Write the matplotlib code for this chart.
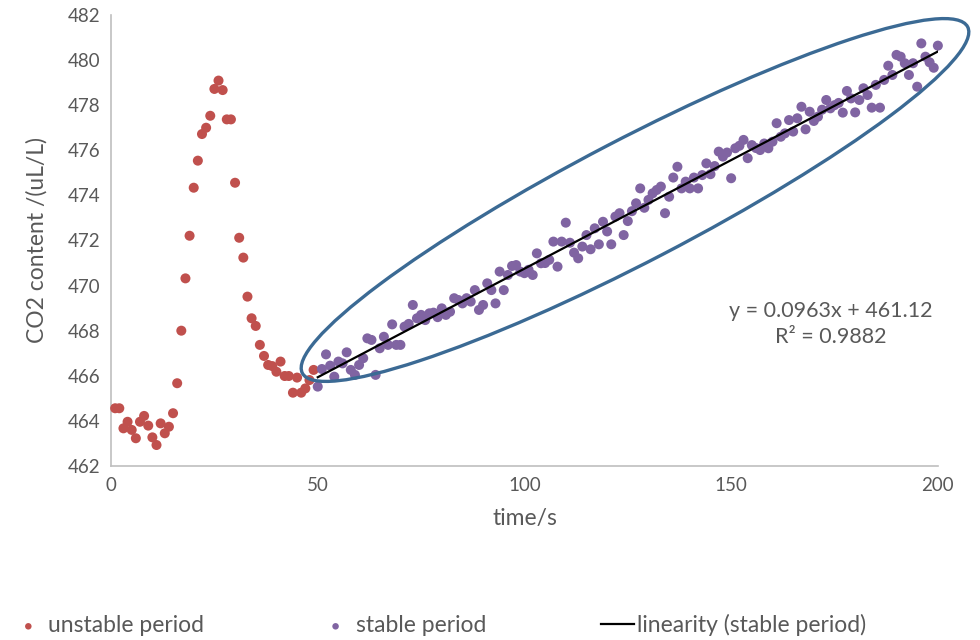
import numpy as np
import matplotlib
matplotlib.use("Agg")
import matplotlib.pyplot as plt
from matplotlib.patches import Ellipse

plt.rcParams['font.family'] = ['Lato', 'DejaVu Sans']

# unstable period: t = 1..49 s
unstable_t = list(range(1, 50))
unstable_co2 = [464.56, 464.56, 463.67, 463.96, 463.60, 463.23, 463.96, 464.22, 463.79, 463.27,
                462.93, 463.89, 463.45, 463.74, 464.34, 465.67, 468.00, 470.32, 472.21, 474.34,
                475.54, 476.72, 477.00, 477.53, 478.72, 479.09, 478.67, 477.37, 477.37, 474.56,
                472.12, 471.24, 469.51, 468.55, 468.21, 467.37, 466.88, 466.48, 466.43, 466.18,
                466.63, 465.99, 465.99, 465.25, 465.92, 465.25, 465.44, 465.81, 466.26]

# stable period: t = 50..200 s
stable_t = list(range(50, 201))
stable_co2 = [465.52, 466.30, 466.95, 466.45, 465.96, 466.63, 466.55, 467.04, 466.26, 466.04,
              466.48, 466.78, 467.66, 467.59, 466.04, 467.22, 467.73, 467.37, 468.28, 467.37,
              467.37, 468.18, 468.30, 469.14, 468.55, 468.70, 468.47, 468.77, 468.80, 468.60,
              468.99, 468.70, 468.84, 469.44, 469.36, 469.21, 469.44, 469.29, 469.80, 468.92,
              469.14, 470.10, 469.80, 469.21, 470.62, 469.80, 470.47, 470.87, 470.91, 470.62,
              470.55, 470.70, 470.47, 471.43, 470.99, 471.00, 471.14, 471.95, 470.84, 471.95,
              472.79, 471.90, 471.46, 471.21, 471.73, 472.24, 471.61, 472.54, 471.83, 472.83,
              472.40, 471.83, 473.06, 473.21, 472.24, 472.86, 473.30, 473.65, 474.31, 473.45,
              473.80, 474.09, 474.24, 474.39, 473.21, 473.94, 474.79, 475.27, 474.31, 474.61,
              474.31, 474.79, 474.31, 474.90, 475.42, 474.94, 475.30, 475.94, 475.72, 475.90,
              474.76, 476.09, 476.20, 476.46, 475.65, 476.23, 476.10, 476.01, 476.30, 476.09,
              476.38, 477.20, 476.60, 476.75, 477.34, 476.83, 477.42, 477.93, 476.93, 477.71,
              477.30, 477.49, 477.80, 478.23, 477.86, 478.00, 478.10, 477.67, 478.63, 478.30,
              477.68, 478.23, 478.75, 478.45, 477.89, 478.90, 477.89, 479.12, 479.75, 479.34,
              480.23, 480.15, 479.86, 479.34, 479.86, 478.82, 480.74, 480.15, 479.90, 479.66,
              480.64]

# linear trend of the stable period
slope = 0.0963
intercept = 461.12
r2 = 0.9882

x_ticks = [0, 50, 100, 150, 200]
y_ticks = list(range(462, 483, 2))

grey = '#595959'

fig = plt.figure(figsize=(9.8, 6.4), dpi=100)
ax = fig.add_axes([0.1133, 0.2719, 0.8437, 0.7047])

ax.scatter(unstable_t, unstable_co2, s=52, color='#C0504D', edgecolors='none',
           label='unstable period', zorder=3, clip_on=False)
ax.scatter(stable_t, stable_co2, s=52, color='#8064A2', edgecolors='none',
           label='stable period', zorder=3, clip_on=False)

fit_x = np.array([stable_t[0], stable_t[-1]])
ax.plot(fit_x, slope * fit_x + intercept, color='black', lw=1.6,
        label='linearity (stable period)', zorder=4)

ax.text(174, 468.3, f"y = {slope}x + {intercept}\nR² = {r2}", ha='center', va='center',
        fontsize=15.5, color=grey, linespacing=1.35)

ax.set_xlim(0, 200)
ax.set_ylim(462, 482)
ax.set_xticks(x_ticks)
ax.set_yticks(y_ticks)
ax.tick_params(length=0, labelsize=13.5, labelcolor=grey, pad=8)
for side in ['top', 'right']:
    ax.spines[side].set_visible(False)
for side in ['left', 'bottom']:
    ax.spines[side].set_color('#BFBFBF')
    ax.spines[side].set_linewidth(1.2)

ax.set_xlabel('time/s', fontsize=16.5, color=grey, labelpad=10)
ax.set_ylabel('CO2 content /(uL/L)', fontsize=16.5, color=grey, labelpad=14)

# ellipse around the stable period (in inches on the figure)
ring = Ellipse((6.35, 4.40), 7.5, 1.22, angle=27.5, transform=fig.dpi_scale_trans,
               fill=False, edgecolor='#3B6A94', lw=2.4, zorder=5)
fig.patches.append(ring)

fig.legend(loc='center', bbox_to_anchor=(0.448, 0.023), ncol=3, frameon=False,
           fontsize=16.5, labelcolor=grey, markerscale=0.65, handlelength=1.45,
           handletextpad=0.15, columnspacing=5)

fig.savefig('out.png', dpi=100)
